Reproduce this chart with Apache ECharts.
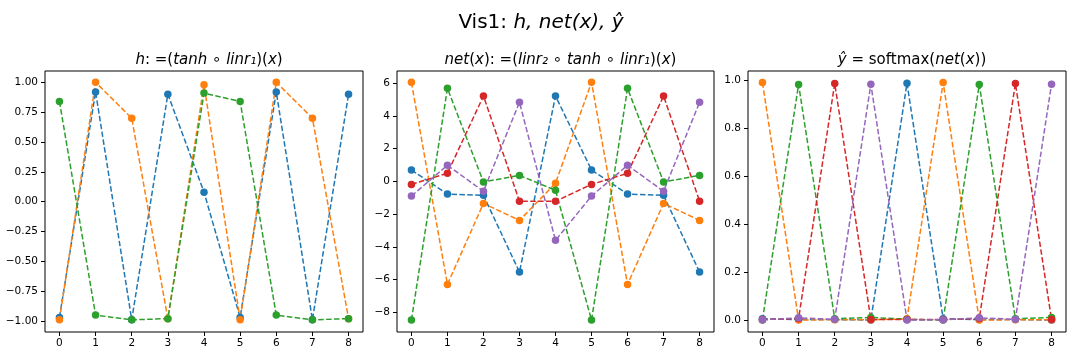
<!DOCTYPE html>
<html><head><meta charset="utf-8">
<script src="https://cdn.jsdelivr.net/npm/echarts@6/dist/echarts.min.js"></script>
<style>html,body{margin:0;padding:0;background:#fff}#c{width:1072px;height:356px}</style>
</head><body><div id="c"></div>
<script>
// ---- data ----
const xs = [0, 1, 2, 3, 4, 5, 6, 7, 8];
const xTicks = [0, 1, 2, 3, 4, 5, 6, 7, 8];

// panel 1: h
const hBlue   = [-0.97, 0.92, -0.99, 0.90, 0.08, -0.97, 0.92, -0.99, 0.90];
const hOrange = [-0.99, 1.00, 0.70, -0.98, 0.98, -0.99, 1.00, 0.70, -0.98];
const hGreen  = [0.84, -0.95, -0.99, -0.98, 0.91, 0.84, -0.95, -0.99, -0.98];
const hTicks  = [-1.0, -0.75, -0.5, -0.25, 0.0, 0.25, 0.5, 0.75, 1.0];

// panel 2: net(x)
const nBlue   = [0.70, -0.77, -0.85, -5.54, 5.22, 0.70, -0.77, -0.85, -5.54];
const nOrange = [6.06, -6.29, -1.34, -2.38, -0.11, 6.06, -6.29, -1.34, -2.38];
const nGreen  = [-8.47, 5.69, -0.03, 0.37, -0.54, -8.47, 5.69, -0.03, 0.37];
const nRed    = [-0.18, 0.50, 5.22, -1.21, -1.21, -0.18, 0.50, 5.22, -1.21];
const nPurple = [-0.89, 0.99, -0.60, 4.84, -3.60, -0.89, 0.99, -0.60, 4.84];
const nTicks  = [-8, -6, -4, -2, 0, 2, 4, 6];

// panel 3: y-hat
const sBlue   = [0.005, 0.002, 0.002, 0.000, 0.989, 0.005, 0.002, 0.002, 0.000];
const sOrange = [0.992, 0.000, 0.001, 0.001, 0.005, 0.992, 0.000, 0.001, 0.001];
const sGreen  = [0.000, 0.984, 0.005, 0.011, 0.003, 0.000, 0.984, 0.005, 0.011];
const sRed    = [0.002, 0.006, 0.988, 0.002, 0.002, 0.002, 0.006, 0.988, 0.002];
const sPurple = [0.001, 0.009, 0.003, 0.985, 0.000, 0.001, 0.009, 0.003, 0.985];
const sTicks  = [0.0, 0.2, 0.4, 0.6, 0.8, 1.0];

const C = ['#1f77b4', '#ff7f0e', '#2ca02c', '#d62728', '#9467bd'];
const FONT = 'DejaVu Sans';

// ---- layout ----
const grids = [
  {left: 45, top: 71, width: 318, height: 261},
  {left: 397, top: 71, width: 317, height: 261},
  {left: 748, top: 71, width: 318, height: 261}
].map(g => Object.assign(g, {show: true, borderColor: '#000', borderWidth: 1, backgroundColor: 'transparent'}));

function minus(s) { return s.replace('-', '\u2212'); }

function xAxis(i) {
  return {
    type: 'value', gridIndex: i, min: -0.4, max: 8.4, position: 'bottom',
    axisLine: {show: false, onZero: false}, splitLine: {show: false},
    axisTick: {show: true, length: 4, customValues: xTicks, lineStyle: {color: '#000', width: 1}},
    axisLabel: {show: true, customValues: xTicks, margin: 6, color: '#000', fontFamily: FONT, fontSize: 10.5,
      formatter: v => String(v)}
  };
}
function yAxis(i, mn, mx, ticks, dec) {
  return {
    type: 'value', gridIndex: i, min: mn, max: mx, position: 'left',
    axisLine: {show: false, onZero: false}, splitLine: {show: false},
    axisTick: {show: true, length: 4, customValues: ticks, lineStyle: {color: '#000', width: 1}},
    axisLabel: {show: true, customValues: ticks, margin: 7, color: '#000', fontFamily: FONT, fontSize: 10.5,
      formatter: v => minus((Math.abs(v) < 1e-9 ? 0 : v).toFixed(dec))}
  };
}

function line(arr, color, gi) {
  return {
    type: 'line', xAxisIndex: gi, yAxisIndex: gi,
    data: xs.map((x, i) => [x, arr[i]]),
    symbol: 'circle', symbolSize: 7.5, showSymbol: true, clip: false,
    lineStyle: {color: color, width: 1.5, type: [5.5, 2.4]},
    itemStyle: {color: color, borderWidth: 0},
    emphasis: {disabled: true}
  };
}

const base = {fontFamily: FONT, fontWeight: 'normal', color: '#000'};
const richT = {
  i: Object.assign({fontStyle: 'italic', fontSize: 15}, base),
  n: Object.assign({fontStyle: 'normal', fontSize: 15}, base),
  I: Object.assign({fontStyle: 'italic', fontSize: 20}, base),
  N: Object.assign({fontStyle: 'normal', fontSize: 20}, base)
};
const ts = {fontWeight: 'normal', fontFamily: FONT, rich: richT};

const option = {
  animation: false,
  backgroundColor: '#fff',
  title: [
    {text: '{N|Vis1: }{I|h, net(x), ŷ}', left: 536, top: 8, textAlign: 'center', textStyle: ts},
    {text: '{i|h}{n|: =(}{i|tanh}{n| ∘ }{i|linr₁}{n|)(}{i|x}{n|)}', left: 204, top: 48, textAlign: 'center', textStyle: ts},
    {text: '{i|net}{n|(}{i|x}{n|): =(}{i|linr₂}{n| ∘ }{i|tanh}{n| ∘ }{i|linr₁}{n|)(}{i|x}{n|)}', left: 555.5, top: 48, textAlign: 'center', textStyle: ts},
    {text: '{i|ŷ}{n| = softmax(}{i|net}{n|(}{i|x}{n|))}', left: 907, top: 48, textAlign: 'center', textStyle: ts}
  ],
  grid: grids,
  xAxis: [xAxis(0), xAxis(1), xAxis(2)],
  yAxis: [
    yAxis(0, -1.092, 1.095, hTicks, 2),
    yAxis(1, -9.2, 6.75, nTicks, 0),
    yAxis(2, -0.05, 1.04, sTicks, 1)
  ],
  series: [
    line(hBlue, C[0], 0), line(hOrange, C[1], 0), line(hGreen, C[2], 0),
    line(nBlue, C[0], 1), line(nOrange, C[1], 1), line(nGreen, C[2], 1), line(nRed, C[3], 1), line(nPurple, C[4], 1),
    line(sBlue, C[0], 2), line(sOrange, C[1], 2), line(sGreen, C[2], 2), line(sRed, C[3], 2), line(sPurple, C[4], 2)
  ]
};

const chart = echarts.init(document.getElementById('c'), null, {renderer: 'canvas'});
chart.setOption(option);
</script>
</body></html>
